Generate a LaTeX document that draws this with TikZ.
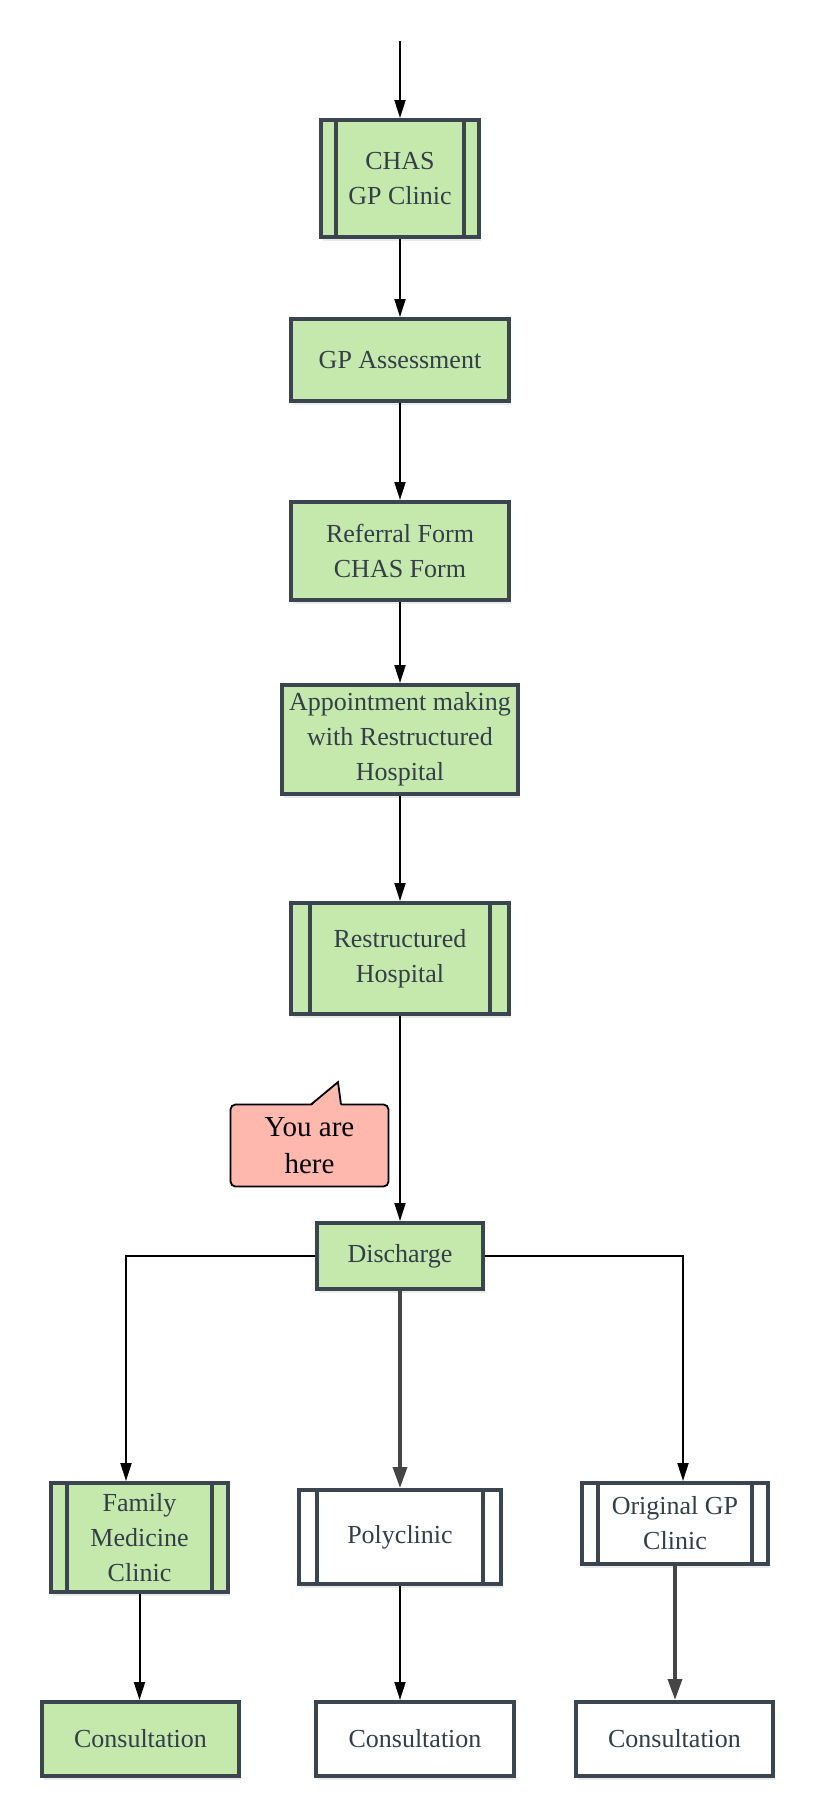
\documentclass[tikz,border=0pt]{standalone}
\usepackage{fontspec}
\setmainfont{Liberation Serif}
\usetikzlibrary{arrows.meta,calc,positioning,shadows}
\definecolor{boxgreen}{HTML}{C5E8AC}
\definecolor{boxline}{HTML}{3B4550}
\definecolor{boxtext}{HTML}{333F48}
\definecolor{notered}{HTML}{FFB8AE}
\definecolor{darkarrow}{HTML}{454545}
\tikzset{
flow/.style={>={Triangle[length=18pt,width=11pt]},line width=2pt,
    x=1pt,y=-1pt},
box/.style={rectangle,draw=boxline,line width=4pt,text=boxtext,
    align=center,inner sep=2pt,font=\fontsize{26}{35}\selectfont,
    drop shadow={shadow xshift=1.5pt,shadow yshift=-4pt,opacity=.16}},
done box/.style={box,fill=boxgreen},
open box/.style={box,fill=white},
heavy/.style={draw=darkarrow,line width=3.5pt,
    >={Triangle[length=21pt,width=14pt]}},
note/.style={rectangle,rounded corners=5pt,draw=black,line width=1.8pt,
    fill=notered,align=center,font=\fontsize{29}{37}\selectfont},
}
\begin{document}
\begin{tikzpicture}[flow]
    \useasboundingbox (0,0) rectangle (815,1820);

    \coordinate (start) at (400,41);
    \node[done box,minimum width=158pt,minimum height=117pt] (chas)
        at (400,178.5) {CHAS\\GP Clinic};
    \node[done box,minimum width=218pt,minimum height=82pt,
        below=78pt of chas] (gpa) {GP Assessment};
    \node[done box,minimum width=218pt,minimum height=98pt,
        below=97pt of gpa] (ref) {Referral Form\\CHAS Form};
    \node[done box,minimum width=236pt,minimum height=109pt,
        below=81pt of ref] (appt) {Appointment making\\with Restructured\\Hospital};
    \node[done box,minimum width=218pt,minimum height=111pt,
        below=105pt of appt] (restr) {Restructured\\Hospital};
    \node[done box,minimum width=166pt,minimum height=66pt,
        below=205pt of restr] (dis) {Discharge};

    \node[done box,minimum width=177pt,minimum height=109pt] (fmc)
        at (139.5,1537.5) {Family\\Medicine\\Clinic};
    \node[open box,minimum width=202pt,minimum height=94pt,
        below=197pt of dis] (poly) {Polyclinic};
    \node[open box,minimum width=186pt,minimum height=81pt] (ogp)
        at (675,1523.5) {Original GP\\Clinic};

    \node[done box,minimum width=197pt,minimum height=74pt] (cl)
        at (140.5,1739) {Consultation};
    \node[open box,minimum width=198pt,minimum height=74pt] (cm)
        at (415,1739) {Consultation};
    \node[open box,minimum width=197pt,minimum height=74pt] (cr)
        at (674.5,1739) {Consultation};

    % side bars of the sub-process boxes
    \foreach \n/\d in {chas/17,restr/21,fmc/18,poly/20,ogp/18}{
        \draw[boxline,line width=3.5pt]
            ([xshift=\d pt]\n.north west) -- ([xshift=\d pt]\n.south west)
            ([xshift=-\d pt]\n.north east) -- ([xshift=-\d pt]\n.south east);
    }

    % callout
    \node[note,minimum width=158pt,minimum height=82pt] (here)
        at (309.5,1145.5) {You are\\here};
    \coordinate (tip) at ([xshift=28.5pt,yshift=21.5pt]here.north);
    \fill[notered] ([xshift=1.5pt,yshift=-2.6pt]here.north) -- (tip)
        -- ([xshift=31.5pt,yshift=-2.6pt]here.north) -- cycle;
    \draw[line width=1.8pt,line join=miter]
        ([xshift=1.5pt,yshift=-.9pt]here.north) -- (tip)
        -- ([xshift=31.5pt,yshift=-.9pt]here.north);

    \draw[->] (start) -- (chas);
    \draw[->] (chas) -- (gpa);
    \draw[->] (gpa) -- (ref);
    \draw[->] (ref) -- (appt);
    \draw[->] (appt) -- (restr);
    \draw[->] (restr) -- (dis);
    \draw[->] (dis.west) -| ([xshift=-13.5pt]fmc.north);
    \draw[->,heavy] (dis) -- (poly);
    \draw[->] (dis.east) -| ([xshift=8pt]ogp.north);
    \draw[->] (fmc) -- (fmc |- cl.north);
    \draw[->] (poly) -- (poly |- cm.north);
    \draw[->,heavy] (ogp) -- (ogp |- cr.north);
\end{tikzpicture}
\end{document}
